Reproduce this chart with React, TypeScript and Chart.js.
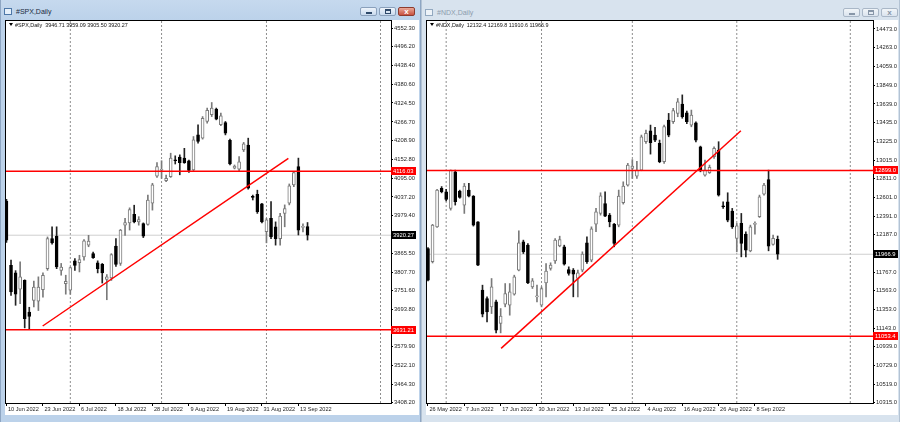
import React, { useEffect, useRef } from "react";
import { Chart, registerables } from "chart.js";

Chart.register(...registerables);

// ---------------- #SPX, Daily ----------------
const SPX_OPEN = [4025,3828,3805,3755,3782,3685,3721,3719,3754,3818,3910,3918,3813,3772,3752,3842,3836,3854,3890,3864,3836,3831,3785,3790,3887,3834,3951,3958,3984,3961,3956,3953,4018,4101,4119,4087,4099,4150,4159,4156,4148,4120,4227,4217,4268,4289,4306,4258,4265,4210,4125,4122,4181,4196,4038,4045,4016,3931,3972,3946,3910,3987,4018,4074,4130,3944,3946.71];
const SPX_HIGH = [4030,3844,3812,3839,3784,3700,3780,3793,3805,3915,3946,3946,3834,3798,3823,3849,3859,3907,3920,3869,3842,3834,3800,3864,3910,3938,3972,4004,4012,3977,3958,4043,4079,4142,4148,4104,4171,4163,4166,4186,4150,4222,4258,4283,4309,4326,4309,4294,4268,4214,4135,4161,4204,4217,4043,4058,4018,3972,4023,3961,3987,4013,4077,4115,4156,3955,3959.09];
const SPX_LOW = [3898,3736,3706,3711,3637,3634,3701,3690,3731,3813,3893,3818,3798,3740,3740,3813,3808,3844,3885,3849,3805,3774,3723,3782,3825,3828,3920,3936,3958,3951,3913,3951,3997,4097,4094,4084,4097,4138,4105,4140,4112,4115,4202,4214,4263,4283,4273,4255,4227,4135,4123,4115,4176,4061,4028,3987,3958,3897,3910,3890,3890,3946,4013,4069,3921,3930,3905.5];
const SPX_CLOSE = [3905,3747,3740,3793,3665,3672,3762,3762,3798,3910,3897,3823,3823,3779,3821,3828,3846,3903,3902,3852,3818,3805,3793,3861,3831,3936,3959,3999,3961,3968,3917,4028,4074,4130,4120,4094,4156,4148,4142,4142,4118,4212,4207,4278,4302,4309,4275,4285,4232,4138,4132,4145,4200,4064,4036,3992,3961,3967,3915,3910,3979,4002,4071,4112,3936,3946,3920.27];
const SPX_DATE_LABELS = ["10 Jun 2022","23 Jun 2022","6 Jul 2022","18 Jul 2022","28 Jul 2022","9 Aug 2022","19 Aug 2022","31 Aug 2022","13 Sep 2022"];
const SPX_PRICE_TICKS = [4552.30,4496.20,4438.40,4380.60,4324.50,4266.70,4208.90,4152.80,4095.00,4037.20,3979.40,3865.50,3807.70,3751.60,3693.80,3579.90,3522.10,3464.30,3408.20];
const SPX_LEVELS = [4116.03, 3631.21];
const SPX_BID = 3920.27;
const SPX_TREND = [{ x: 7.94, y: 3642.7 }, { x: 61.8, y: 4155.4 }];
const SPX_MONTH_STARTS = [14, 34, 57, 82];

// ---------------- #NDX, Daily ----------------
const NDX_OPEN = [12031,11883,12272,12699,12662,12477,12885,12669,12514,12681,12614,12328,11567,11475,11382,11437,11196,11411,11400,11523,11790,12105,12068,11604,11493,11400,11649,11808,11894,12061,12050,11797,11790,11697,11790,12094,11901,12302,12421,12532,12402,12302,12291,12540,12736,12922,12836,12903,13219,13341,13293,13200,12996,13460,13441,13534,13638,13541,13404,13430,13163,12848,12874,13052,13126,12503,12551,12447,12143,12310,12191,12005,12300,12384,12636,12799,12076,12132.4];
const NDX_HIGH = [12040,12300,12690,12720,12690,12905,12903,12680,12755,12755,12620,12330,11623,11493,11697,11456,11363,11641,11641,11734,12228,12124,12087,11697,11623,11604,11864,11872,12142,12168,12068,11827,11808,11790,11994,12161,12272,12477,12651,12662,12421,12310,12681,12773,12978,13020,13000,13293,13349,13404,13380,13237,13404,13534,13590,13700,13740,13560,13571,13441,13170,13014,12959,13163,13219,12551,12651,12477,12310,12421,12217,12291,12328,12625,12755,12903,12180,12169.8];
const NDX_LOW = [11670,11870,12265,12650,12560,12458,12514,12590,12421,12606,12280,11840,11270,11215,11307,11092,11092,11382,11289,11512,11782,11975,11641,11586,11437,11382,11493,11790,11864,12050,11846,11734,11493,11493,11771,11864,11883,12217,12402,12384,12272,12050,12272,12525,12725,12811,12811,12896,13200,13081,13220,12985,12978,13274,13422,13497,13480,13420,13385,13218,12884,12836,12866,13033,12614,12477,12328,12254,11994,11938,11938,11994,12190,12376,12625,12005,12069,11910.6];
const NDX_CLOSE = [11679,12291,12681,12662,12577,12903,12551,12599,12725,12614,12291,11846,11300,11326,11604,11122,11278,11530,11549,11716,12094,11994,11649,11671,11500,11586,11779,11846,12124,12131,11857,11753,11745,11760,11968,11883,12250,12439,12618,12391,12328,12087,12614,12725,12959,12948,12903,13274,13311,13208,13237,12996,13386,13293,13564,13664,13497,13441,13515,13237,12903,12903,12933,13144,12625,12495,12347,12272,12284,12087,12013,12272,12302,12606,12736,12057,12143,11966.9];
const NDX_DATE_LABELS = ["26 May 2022","7 Jun 2022","17 Jun 2022","30 Jun 2022","13 Jul 2022","25 Jul 2022","4 Aug 2022","16 Aug 2022","26 Aug 2022","8 Sep 2022"];
const NDX_PRICE_TICKS = [14473.0,14263.0,14059.0,13849.0,13639.0,13435.0,13225.0,13015.0,12811.0,12601.0,12391.0,12187.0,11767.0,11563.0,11353.0,11143.0,10939.0,10729.0,10519.0,10315.0];
const NDX_LEVELS = [12899.0, 11053.4];
const NDX_BID = 11966.9;
const NDX_TREND = [{ x: 16.1, y: 10920 }, { x: 68.9, y: 13341 }];
const NDX_MONTH_STARTS = [4, 25, 45, 68, 93];

const FONT = "'Liberation Sans', Arial, sans-serif";

type Panel = {
  symbol: string;
  open: number[]; high: number[]; low: number[]; close: number[];
  dateLabels: string[]; labelStep: number;
  priceTicks: number[]; decimals: number;
  levels: number[]; bid: number;
  trend: { x: number; y: number }[];
  monthStarts: number[];
  xMin: number; xMax: number; yMin: number; yMax: number;
  axisWidth: number;
};

const SPX: Panel = {
  symbol: "#SPX",
  open: SPX_OPEN, high: SPX_HIGH, low: SPX_LOW, close: SPX_CLOSE,
  dateLabels: SPX_DATE_LABELS, labelStep: 8,
  priceTicks: SPX_PRICE_TICKS, decimals: 2,
  levels: SPX_LEVELS, bid: SPX_BID, trend: SPX_TREND, monthStarts: SPX_MONTH_STARTS,
  xMin: -0.1, xMax: 84.3, yMin: 3407.3, yMax: 4575.2, axisWidth: 28,
};

const NDX: Panel = {
  symbol: "#NDX",
  open: NDX_OPEN, high: NDX_HIGH, low: NDX_LOW, close: NDX_CLOSE,
  dateLabels: NDX_DATE_LABELS, labelStep: 8,
  priceTicks: NDX_PRICE_TICKS, decimals: 1,
  levels: NDX_LEVELS, bid: NDX_BID, trend: NDX_TREND, monthStarts: NDX_MONTH_STARTS,
  xMin: -0.22, xMax: 98.0, yMin: 10312, yMax: 14562, axisWidth: 25,
};

function makeConfig(p: Panel): any {
  const idx = p.open.map((_, i) => i);
  const isUp = idx.map((i) => p.close[i] >= p.open[i]);
  const upEdge = "#7a7a7a";
  const datasets: any[] = [];

  p.monthStarts.forEach((m) =>
    datasets.push({
      type: "line",
      data: [{ x: m, y: p.yMin }, { x: m, y: p.yMax }],
      borderColor: "#8e8e8e",
      borderWidth: 1,
      borderDash: [2, 2],
      pointRadius: 0,
      order: 10,
    })
  );
  datasets.push({
    type: "line",
    data: [{ x: p.xMin, y: p.bid }, { x: p.xMax, y: p.bid }],
    borderColor: "#cfcfcf",
    borderWidth: 1,
    pointRadius: 0,
    order: 9,
  });
  datasets.push({
    type: "bar",
    data: idx.map((i) => ({ x: i, y: [p.low[i], p.high[i]] })),
    backgroundColor: idx.map((i) => (isUp[i] ? upEdge : "#222222")),
    barThickness: 1,
    grouped: false,
    order: 5,
  });
  datasets.push({
    type: "bar",
    data: idx.map((i) => ({
      x: i,
      y: [Math.min(p.open[i], p.close[i]), Math.max(p.open[i], p.close[i])],
    })),
    backgroundColor: idx.map((i) => (isUp[i] ? "#ffffff" : "#000000")),
    borderColor: idx.map((i) => (isUp[i] ? upEdge : "#000000")),
    borderWidth: 1,
    borderSkipped: false,
    barThickness: 3,
    minBarLength: 1,
    grouped: false,
    order: 4,
  });
  p.levels.forEach((v) =>
    datasets.push({
      type: "line",
      data: [{ x: p.xMin, y: v }, { x: p.xMax, y: v }],
      borderColor: "#ff0000",
      borderWidth: 1.5,
      pointRadius: 0,
      order: 1,
    })
  );
  datasets.push({
    type: "line",
    data: p.trend,
    borderColor: "#ff0000",
    borderWidth: 1.5,
    pointRadius: 0,
    order: 1,
  });

  const boxes = [
    ...p.levels.map((v) => ({ value: v, color: "#ff0000" })),
    { value: p.bid, color: "#000000" },
  ];

  const framePlugin = {
    id: "mtFrame",
    afterDraw(chart: any) {
      const { ctx, chartArea } = chart;
      const { left, top, right, bottom } = chartArea;
      const y = chart.scales.y;
      ctx.save();
      ctx.strokeStyle = "#000";
      ctx.lineWidth = 1;
      const l = Math.round(left), t = Math.round(top), r = Math.round(right), b = Math.round(bottom);
      ctx.strokeRect(l - 0.5, t - 0.5, r - l + 1, b - t + 1);
      ctx.font = `5.8px ${FONT}`;
      boxes.forEach((bx) => {
        const py = Math.round(y.getPixelForValue(bx.value));
        const label = bx.value.toFixed(p.decimals);
        const w = Math.ceil(ctx.measureText(label).width) + 4;
        ctx.fillStyle = bx.color;
        ctx.fillRect(r, py - 4, w, 8);
        ctx.fillStyle = "#ffffff";
        ctx.textBaseline = "middle";
        ctx.textAlign = "left";
        ctx.fillText(label, r + 2, py + 0.5);
      });
      ctx.restore();
    },
  };

  return {
    type: "bar",
    data: { datasets },
    plugins: [framePlugin],
    options: {
      animation: false,
      responsive: false,
      devicePixelRatio: 1,
      events: [],
      layout: { padding: { left: 1, top: 1, right: 0, bottom: 0 }, autoPadding: false },
      plugins: { legend: { display: false }, tooltip: { enabled: false } },
      scales: {
        x: {
          type: "linear",
          min: p.xMin,
          max: p.xMax,
          offset: false,
          afterBuildTicks: (s: any) => {
            s.ticks = p.dateLabels.map((_, k) => ({ value: k * p.labelStep }));
          },
          afterFit: (s: any) => {
            s.height = 12;
            s.paddingLeft = 0;
            s.paddingRight = 0;
          },
          ticks: {
            autoSkip: false,
            maxRotation: 0,
            minRotation: 0,
            align: "start",
            padding: 0,
            labelOffset: 1.5,
            color: "#1e1e1e",
            font: { family: FONT, size: 5.6 },
            callback: (_v: any, k: number) => p.dateLabels[k],
          },
          grid: { drawOnChartArea: false, drawTicks: true, tickLength: 3, color: "#000", offset: false },
          border: { display: false },
        },
        y: {
          type: "linear",
          position: "right",
          min: p.yMin,
          max: p.yMax,
          afterBuildTicks: (s: any) => {
            s.ticks = p.priceTicks.map((v) => ({ value: v }));
          },
          afterFit: (s: any) => {
            s.width = p.axisWidth;
            s.paddingTop = 0;
            s.paddingBottom = 0;
          },
          ticks: {
            autoSkip: false,
            padding: 1,
            color: "#1e1e1e",
            font: { family: FONT, size: 5.8 },
            callback: (v: any) => Number(v).toFixed(p.decimals),
          },
          grid: { drawOnChartArea: false, drawTicks: true, tickLength: 2, color: "#000" },
          border: { display: false },
        },
      },
    },
  };
}

function headerText(p: Panel) {
  const n = p.open.length - 1;
  const f = (v: number) => v.toFixed(p.decimals);
  return `${p.symbol},Daily  ${f(p.open[n])} ${f(p.high[n])} ${f(p.low[n])} ${f(p.close[n])}`;
}

function TitleButton({ left, top, kind, active }: { left: number; top: number; kind: string; active: boolean }) {
  const isClose = kind === "close";
  const bg = isClose && active
    ? "linear-gradient(#e9a899, #c8513f)"
    : active
    ? "linear-gradient(#eef4fb, #c9daee)"
    : "linear-gradient(#f1f5f9, #dbe4ee)";
  const border = isClose && active ? "#8d3b2e" : active ? "#8aa0bb" : "#a9b7c7";
  const glyphColor = isClose && active ? "#fff" : active ? "#2f4a6b" : "#8796a8";
  return (
    <div
      style={{
        position: "absolute",
        left,
        top,
        width: 17,
        height: 9,
        background: bg,
        border: `1px solid ${border}`,
        borderRadius: 2,
        boxSizing: "border-box",
      }}
    >
      {kind === "min" && (
        <div style={{ position: "absolute", left: 5, top: 4, width: 6, height: 2, background: glyphColor }} />
      )}
      {kind === "max" && (
        <div
          style={{
            position: "absolute",
            left: 5,
            top: 1,
            width: 6,
            height: 5,
            border: `1px solid ${glyphColor}`,
            borderTopWidth: 2,
            boxSizing: "border-box",
          }}
        />
      )}
      {kind === "close" && (
        <div
          style={{
            position: "absolute",
            left: 0,
            top: -1,
            width: 15,
            textAlign: "center",
            fontSize: 8,
            lineHeight: "9px",
            fontWeight: "bold",
            color: glyphColor,
            fontFamily: FONT,
          }}
        >
          x
        </div>
      )}
    </div>
  );
}

function MtWindow(props: {
  left: number;
  width: number;
  active: boolean;
  panel: Panel;
  canvasRef: React.RefObject<HTMLCanvasElement | null>;
  canvasWidth: number;
  titleTop: number;
  buttonsLeft: number;
}) {
  const { left, width, active, panel, canvasRef, canvasWidth, titleTop, buttonsLeft } = props;
  const frame = active ? "#bcd2ea" : "#d8e3ee";
  return (
    <div
      style={{
        position: "absolute",
        left,
        top: 0,
        width,
        height: 422,
        background: active ? "linear-gradient(#c6d9ee 0px, #bcd2ea 20px, #bcd2ea 100%)" : frame,
        boxSizing: "border-box",
        borderLeft: `1px solid ${active ? "#8ea6c3" : "#b3c3d4"}`,
        borderRight: `1px solid ${active ? "#8ea6c3" : "#b3c3d4"}`,
      }}
    >
      <div
        style={{
          position: "absolute",
          left: 3,
          top: titleTop,
          width: 8,
          height: 7,
          border: `1px solid ${active ? "#4e78a8" : "#93a9c0"}`,
          background: active ? "#e6f0fa" : "#eef3f8",
          boxSizing: "border-box",
        }}
      />
      <div
        style={{
          position: "absolute",
          left: 15,
          top: titleTop - 1,
          fontFamily: FONT,
          fontSize: 7,
          lineHeight: "9px",
          color: active ? "#1b2a3c" : "#8d9cad",
          whiteSpace: "pre",
        }}
      >
        {panel.symbol},Daily
      </div>
      <TitleButton left={buttonsLeft} top={titleTop - 1} kind="min" active={active} />
      <TitleButton left={buttonsLeft + 19} top={titleTop - 1} kind="max" active={active} />
      <TitleButton left={buttonsLeft + 38} top={titleTop - 1} kind="close" active={active} />
      <div
        style={{
          position: "absolute",
          left: 4,
          top: 20,
          width: canvasWidth,
          height: 395,
          background: "#ffffff",
        }}
      >
        <canvas ref={canvasRef} width={canvasWidth} height={395} style={{ display: "block", width: canvasWidth, height: 395 }} />
        <div
          style={{
            position: "absolute",
            left: 4,
            top: 3,
            width: 0,
            height: 0,
            borderLeft: "2px solid transparent",
            borderRight: "2px solid transparent",
            borderTop: "3px solid #000",
          }}
        />
        <div
          style={{
            position: "absolute",
            left: 10,
            top: 1,
            fontFamily: FONT,
            fontSize: 5.4,
            lineHeight: "8px",
            color: "#111",
            whiteSpace: "pre",
          }}
        >
          {headerText(panel)}
        </div>
      </div>
    </div>
  );
}

export default function App() {
  const leftRef = useRef<HTMLCanvasElement>(null);
  const rightRef = useRef<HTMLCanvasElement>(null);

  useEffect(() => {
    const charts: Chart[] = [];
    if (leftRef.current) charts.push(new Chart(leftRef.current, makeConfig(SPX)));
    if (rightRef.current) charts.push(new Chart(rightRef.current, makeConfig(NDX)));
    return () => charts.forEach((c) => c.destroy());
  }, []);

  return (
    <div
      style={{
        position: "fixed",
        left: 0,
        top: 0,
        width: 900,
        height: 422,
        overflow: "hidden",
        background: "#7f96b0",
      }}
    >
      <MtWindow left={0} width={421} active={true} panel={SPX} canvasRef={leftRef} canvasWidth={414} titleTop={8} buttonsLeft={359} />
      <MtWindow left={421} width={479} active={false} panel={NDX} canvasRef={rightRef} canvasWidth={472} titleTop={9} buttonsLeft={421} />
    </div>
  );
}
